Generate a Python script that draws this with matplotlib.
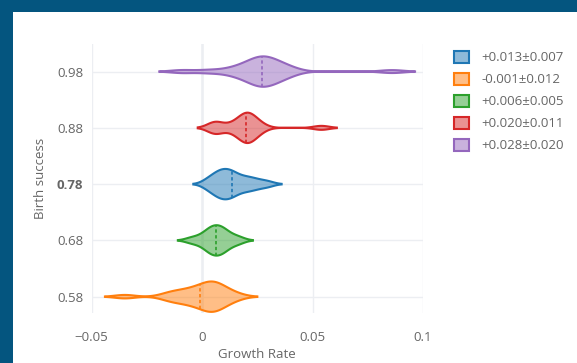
import numpy as np
import matplotlib.pyplot as plt
from matplotlib.patches import Rectangle, Patch
from matplotlib.colors import to_rgba

plt.rcParams['font.family'] = ['Open Sans', 'DejaVu Sans']

# growth-rate samples per birth-success level
birth_success = [0.58, 0.68, 0.78, 0.88, 0.98]
rates_058 = [-0.035, -0.016, -0.013, -0.010, -0.007, -0.005, -0.003, -0.001,
             0.001, 0.002, 0.003, 0.004, 0.005, 0.006, 0.007, 0.008, 0.010,
             0.012, 0.016]
rates_068 = [-0.005, -0.001, 0.002, 0.003, 0.004, 0.005, 0.006, 0.007,
             0.008, 0.009, 0.010, 0.011, 0.014, 0.017]
rates_078 = [0.002, 0.004, 0.006, 0.007, 0.008, 0.009, 0.010, 0.011, 0.012,
             0.013, 0.014, 0.015, 0.017, 0.019, 0.021, 0.023, 0.026, 0.030]
rates_088 = [0.005, 0.006, 0.007, 0.013, 0.016, 0.018, 0.019, 0.020, 0.020,
             0.021, 0.022, 0.023, 0.024, 0.027, 0.054]
rates_098 = [-0.009, 0.003, 0.012, 0.016, 0.019, 0.021, 0.023, 0.024, 0.025,
             0.026, 0.027, 0.028, 0.029, 0.030, 0.031, 0.032, 0.034, 0.036,
             0.038, 0.041, 0.086]
samples = [rates_058, rates_068, rates_078, rates_088, rates_098]
bandwidths = [0.0045, 0.003, 0.003, 0.0035, 0.0052]
colors = ['#ff7f0e', '#2ca02c', '#1f77b4', '#d62728', '#9467bd']

legend_order = [2, 0, 1, 3, 4]
legend_labels = ['+0.013±0.007', '-0.001±0.012', '+0.006±0.005',
                 '+0.020±0.011', '+0.028±0.020']

ytick_labels = ['0.58', '0.68', '0.78', '0.88', '0.98']
xticks = [-0.05, 0, 0.05, 0.1]
xtick_labels = ['\u22120.05', '0', '0.05', '0.1']

fig = plt.figure(figsize=(5.77, 3.63), dpi=100, facecolor='#04557f')
fig.add_artist(Rectangle((13 / 577, 0), 1, 1 - 12 / 363, transform=fig.transFigure,
                         facecolor='white', edgecolor='none', zorder=0))

ax = fig.add_axes([91.7 / 577, 1 - 313 / 363, (423 - 91.7) / 577, (313 - 44) / 363])
ax.set_facecolor('white')

half_w = 0.027
for y0, data, bw, c in zip(birth_success, samples, bandwidths, colors):
    data = np.array(data)
    xs = np.linspace(data.min() - 2 * bw, data.max() + 2 * bw, 400)
    dens = np.exp(-0.5 * ((xs[:, None] - data[None, :]) / bw) ** 2).sum(axis=1)
    d = dens / dens.max() * half_w
    ax.fill(np.r_[xs, xs[::-1]], np.r_[y0 + d, (y0 - d)[::-1]],
            facecolor=to_rgba(c, 0.5), edgecolor=c, lw=1.5, zorder=3)
    m = data.mean()
    dm = np.interp(m, xs, d)
    ax.plot([m, m], [y0 - dm, y0 + dm], color=c, lw=1.2, ls=(0, (2, 1.5)), zorder=4)

ax.set_xlim(-0.05, 0.1)
ax.set_ylim(0.551, 1.029)
ax.set_xticks(xticks)
ax.set_xticklabels(xtick_labels)
ax.set_yticks(birth_success)
ax.set_yticklabels(ytick_labels)
ax.get_yticklabels()[2].set_fontweight('bold')
ax.get_yticklabels()[2].set_color('#333333')
ax.tick_params(length=0, labelsize=9.5, labelcolor='#666666')
ax.tick_params(axis='x', pad=13)
ax.tick_params(axis='y', pad=6)
ax.grid(True, color='#eceef2', lw=1)
ax.axvline(0, color='#eceef2', lw=1.8, zorder=1)
ax.set_axisbelow(True)
for s in ax.spines.values():
    s.set_visible(False)

ax.set_xlabel('Growth Rate', fontsize=9.5, color='#666666', labelpad=3)
ax.set_ylabel('Birth success', fontsize=9.5, color='#666666', labelpad=7)

handles = [Patch(facecolor=to_rgba(colors[i], 0.5), edgecolor=colors[i], lw=1.5)
           for i in legend_order]
fig.legend(handles, legend_labels, loc='upper left',
           bbox_to_anchor=(454 / 577, 1 - 50.5 / 363), frameon=False,
           fontsize=9.5, borderpad=0, borderaxespad=0, handlelength=1.1,
           handleheight=1.1, handletextpad=1.0, labelspacing=0.62,
           labelcolor='#666666')

fig.savefig('out.png', dpi=100, facecolor=fig.get_facecolor())
